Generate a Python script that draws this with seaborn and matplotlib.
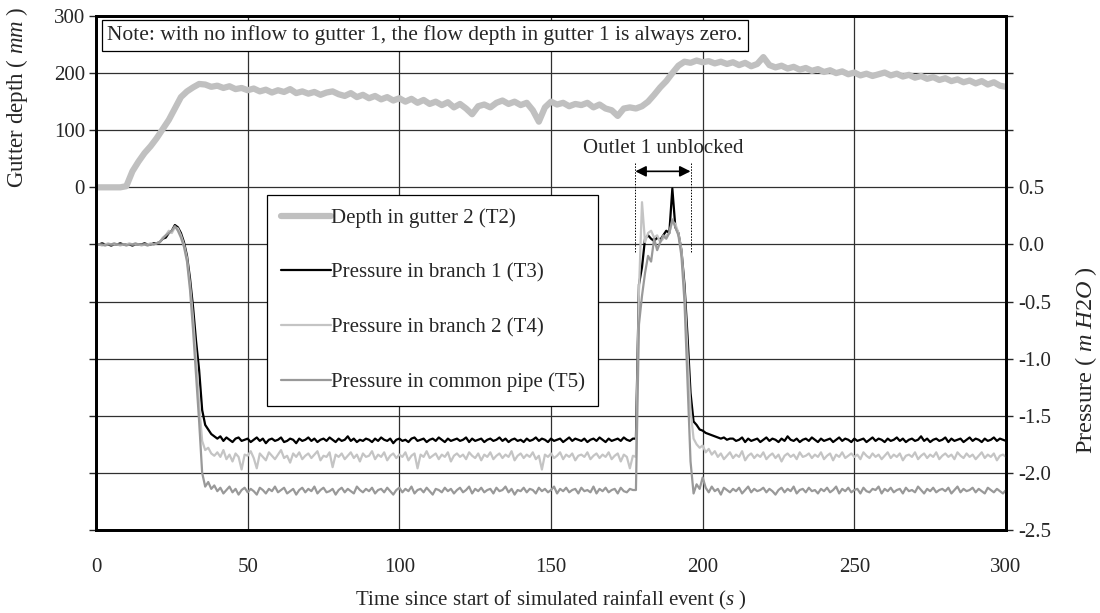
import numpy as np
import matplotlib
matplotlib.use("Agg")
import matplotlib.pyplot as plt
import seaborn as sns

# gutter 2 depth (mm), sampled every 2 s from 0 to 300 s
depth_t2 = [
    0, 0, 0, 0, 0, 2, 28, 45, 60, 72,
    86, 102, 118, 138, 158, 168, 175, 181, 180, 176,
    178, 174, 177, 172, 174, 170, 173, 168, 171, 166,
    170, 167, 172, 165, 168, 164, 167, 162, 166, 168,
    163, 160, 165, 158, 162, 156, 160, 154, 158, 152,
    156, 150, 155, 148, 153, 146, 150, 144, 149, 140,
    146, 138, 128, 142, 145, 140, 148, 152, 146, 150,
    144, 148, 135, 115, 140, 150, 145, 148, 142, 146,
    144, 148, 140, 145, 138, 135, 125, 138, 140, 138,
    142, 150, 162, 175, 186, 200, 213, 220, 218, 222,
    219, 221, 217, 220, 216, 219, 214, 218, 212, 216,
    228, 214, 210, 213, 208, 211, 206, 209, 204, 207,
    202, 205, 200, 203, 198, 201, 196, 199, 195, 198,
    201, 196, 199, 194, 197, 192, 195, 190, 193, 188,
    191, 186, 189, 184, 187, 182, 186, 180, 184, 178,
    176,
]

# pressures (m H2O), sampled every 1 s from 0 to 300 s
pressure_t3 = [
    0.00, 0.00, 0.01, 0.00, 0.00, -0.01, 0.00, 0.00, 0.01, 0.00,
    0.00, 0.00, -0.01, 0.00, 0.00, 0.00, 0.01, 0.00, 0.00, 0.01,
    0.01, 0.02, 0.05, 0.06, 0.10, 0.12, 0.17, 0.15, 0.10, 0.02,
    -0.10, -0.30, -0.55, -0.85, -1.10, -1.45, -1.58, -1.62, -1.66, -1.68,
    -1.70, -1.68, -1.72, -1.69, -1.71, -1.73, -1.70, -1.69, -1.72, -1.71,
    -1.70, -1.73, -1.71, -1.69, -1.72, -1.70, -1.74, -1.71, -1.70, -1.72,
    -1.71, -1.69, -1.73, -1.72, -1.70, -1.71, -1.74, -1.70, -1.72, -1.71,
    -1.69, -1.72, -1.70, -1.73, -1.71, -1.70, -1.72, -1.69, -1.71, -1.73,
    -1.70, -1.72, -1.71, -1.68, -1.72, -1.70, -1.73, -1.71, -1.72, -1.70,
    -1.71, -1.73, -1.70, -1.72, -1.69, -1.71, -1.72, -1.70, -1.74, -1.71,
    -1.70, -1.72, -1.71, -1.73, -1.70, -1.69, -1.72, -1.71, -1.70, -1.73,
    -1.71, -1.70, -1.72, -1.69, -1.71, -1.73, -1.70, -1.72, -1.71, -1.70,
    -1.72, -1.71, -1.69, -1.73, -1.70, -1.72, -1.71, -1.70, -1.73, -1.71,
    -1.70, -1.72, -1.71, -1.69, -1.72, -1.70, -1.73, -1.71, -1.70, -1.72,
    -1.71, -1.73, -1.70, -1.72, -1.71, -1.69, -1.72, -1.70, -1.71, -1.73,
    -1.70, -1.72, -1.71, -1.70, -1.73, -1.71, -1.69, -1.72, -1.70, -1.71,
    -1.72, -1.70, -1.73, -1.71, -1.70, -1.72, -1.69, -1.71, -1.73, -1.70,
    -1.72, -1.71, -1.70, -1.72, -1.69, -1.71, -1.72, -1.70, -1.70, -0.35,
    -0.20, 0.05, 0.08, 0.05, 0.03, 0.06, 0.04, 0.08, 0.12, 0.10,
    0.49, 0.15, 0.10, -0.05, -0.35, -0.80, -1.30, -1.55, -1.58, -1.62,
    -1.63, -1.65, -1.66, -1.67, -1.68, -1.69, -1.70, -1.69, -1.71, -1.70,
    -1.70, -1.72, -1.71, -1.69, -1.73, -1.70, -1.72, -1.71, -1.70, -1.73,
    -1.71, -1.69, -1.72, -1.70, -1.71, -1.73, -1.70, -1.72, -1.68, -1.71,
    -1.72, -1.70, -1.73, -1.71, -1.70, -1.72, -1.69, -1.71, -1.73, -1.70,
    -1.72, -1.71, -1.70, -1.73, -1.71, -1.69, -1.72, -1.70, -1.71, -1.73,
    -1.70, -1.72, -1.71, -1.70, -1.73, -1.71, -1.69, -1.72, -1.70, -1.71,
    -1.73, -1.70, -1.72, -1.71, -1.69, -1.72, -1.70, -1.73, -1.71, -1.70,
    -1.72, -1.71, -1.68, -1.72, -1.70, -1.73, -1.71, -1.70, -1.72, -1.71,
    -1.69, -1.73, -1.70, -1.72, -1.71, -1.70, -1.73, -1.71, -1.69, -1.72,
    -1.70, -1.71, -1.73, -1.70, -1.72, -1.71, -1.69, -1.72, -1.70, -1.71,
    -1.72,
]

pressure_t4 = [
    0.00, 0.00, -0.01, 0.00, 0.01, 0.00, 0.00, 0.00, -0.01, 0.00,
    0.00, 0.01, 0.00, 0.00, 0.00, -0.01, 0.00, 0.00, 0.01, 0.00,
    0.01, 0.02, 0.06, 0.08, 0.12, 0.10, 0.15, 0.14, 0.08, 0.00,
    -0.12, -0.35, -0.65, -1.00, -1.40, -1.72, -1.80, -1.78, -1.83, -1.85,
    -1.82, -1.86, -1.80, -1.88, -1.84, -1.90, -1.83, -1.86, -1.97, -1.84,
    -1.85, -1.81, -1.87, -1.96, -1.83, -1.86, -1.89, -1.82, -1.85, -1.88,
    -1.84, -1.80, -1.87, -1.85, -1.91, -1.83, -1.86, -1.82, -1.88, -1.85,
    -1.83, -1.87, -1.84, -1.81, -1.89, -1.85, -1.86, -1.82, -1.95, -1.84,
    -1.86, -1.83, -1.88, -1.85, -1.82, -1.87, -1.84, -1.90, -1.83, -1.86,
    -1.85, -1.81, -1.88, -1.84, -1.86, -1.82, -1.89, -1.85, -1.83, -1.87,
    -1.84, -1.86, -1.82, -1.89, -1.85, -1.83, -1.96, -1.84, -1.86, -1.81,
    -1.87, -1.85, -1.83, -1.88, -1.84, -1.86, -1.82, -1.90, -1.85, -1.83,
    -1.86, -1.84, -1.88, -1.82, -1.85, -1.87, -1.83, -1.89, -1.84, -1.86,
    -1.82, -1.88, -1.85, -1.83, -1.87, -1.84, -1.86, -1.81, -1.89, -1.85,
    -1.83, -1.87, -1.84, -1.86, -1.82, -1.88, -1.85, -1.97, -1.84, -1.86,
    -1.83, -1.87, -1.85, -1.82, -1.88, -1.84, -1.86, -1.83, -1.89, -1.85,
    -1.84, -1.86, -1.82, -1.88, -1.85, -1.83, -1.87, -1.84, -1.86, -1.82,
    -1.88, -1.85, -1.83, -1.90, -1.84, -1.86, -1.96, -1.85, -1.86, -0.40,
    0.37, 0.02, 0.10, 0.12, 0.06, 0.08, 0.02, 0.05, 0.08, 0.10,
    0.20, 0.18, 0.10, -0.05, -0.40, -0.95, -1.45, -1.70, -1.75, -1.78,
    -1.76, -1.82, -1.79, -1.84, -1.81, -1.86, -1.83, -1.88, -1.85, -1.82,
    -1.87, -1.84, -1.86, -1.81, -1.89, -1.85, -1.83, -1.87, -1.84, -1.86,
    -1.82, -1.88, -1.85, -1.83, -1.87, -1.84, -1.90, -1.85, -1.83, -1.86,
    -1.84, -1.88, -1.82, -1.86, -1.85, -1.83, -1.87, -1.84, -1.86, -1.82,
    -1.88, -1.85, -1.83, -1.89, -1.84, -1.86, -1.82, -1.87, -1.85, -1.83,
    -1.86, -1.84, -1.88, -1.82, -1.85, -1.87, -1.83, -1.86, -1.84, -1.88,
    -1.85, -1.82, -1.87, -1.84, -1.86, -1.83, -1.89, -1.85, -1.84, -1.86,
    -1.82, -1.88, -1.85, -1.83, -1.87, -1.84, -1.86, -1.82, -1.88, -1.85,
    -1.83, -1.86, -1.84, -1.88, -1.82, -1.85, -1.87, -1.83, -1.86, -1.84,
    -1.88, -1.85, -1.82, -1.87, -1.84, -1.86, -1.83, -1.89, -1.85, -1.84,
    -1.86,
]

pressure_t5 = [
    0.00, 0.00, 0.00, -0.01, 0.00, 0.00, 0.01, 0.00, 0.00, 0.00,
    -0.01, 0.00, 0.00, 0.01, 0.00, 0.00, 0.00, -0.01, 0.00, 0.00,
    0.01, 0.02, 0.05, 0.08, 0.10, 0.12, 0.16, 0.12, 0.06, -0.02,
    -0.15, -0.40, -0.75, -1.15, -1.55, -2.00, -2.12, -2.08, -2.14, -2.11,
    -2.16, -2.13, -2.18, -2.15, -2.12, -2.17, -2.14, -2.19, -2.15, -2.13,
    -2.17, -2.14, -2.16, -2.19, -2.13, -2.15, -2.18, -2.14, -2.16, -2.12,
    -2.17, -2.15, -2.13, -2.18, -2.16, -2.14, -2.19, -2.15, -2.13, -2.17,
    -2.14, -2.16, -2.12, -2.18, -2.15, -2.13, -2.17, -2.16, -2.14, -2.19,
    -2.15, -2.13, -2.17, -2.14, -2.16, -2.18, -2.12, -2.15, -2.17, -2.14,
    -2.16, -2.13, -2.18, -2.15, -2.14, -2.17, -2.13, -2.16, -2.19, -2.15,
    -2.13, -2.17, -2.14, -2.16, -2.12, -2.18, -2.15, -2.14, -2.17, -2.13,
    -2.16, -2.19, -2.14, -2.15, -2.17, -2.13, -2.16, -2.14, -2.18, -2.15,
    -2.13, -2.17, -2.15, -2.12, -2.18, -2.14, -2.16, -2.13, -2.17, -2.15,
    -2.14, -2.18, -2.13, -2.16, -2.15, -2.12, -2.17, -2.14, -2.19, -2.15,
    -2.16, -2.13, -2.17, -2.14, -2.15, -2.18, -2.13, -2.16, -2.14, -2.17,
    -2.15, -2.12, -2.18, -2.14, -2.16, -2.13, -2.17, -2.15, -2.14, -2.18,
    -2.13, -2.16, -2.15, -2.17, -2.12, -2.18, -2.14, -2.16, -2.13, -2.17,
    -2.15, -2.14, -2.18, -2.13, -2.16, -2.17, -2.14, -2.15, -2.15, -0.70,
    -0.45, -0.25, -0.10, -0.15, 0.05, -0.05, 0.02, 0.08, 0.05, 0.10,
    0.22, 0.15, 0.08, -0.10, -0.50, -1.20, -1.90, -2.18, -2.10, -2.14,
    -2.04, -2.13, -2.17, -2.12, -2.16, -2.14, -2.19, -2.13, -2.15, -2.17,
    -2.14, -2.16, -2.13, -2.18, -2.15, -2.12, -2.17, -2.14, -2.16, -2.15,
    -2.13, -2.17, -2.14, -2.16, -2.19, -2.15, -2.13, -2.17, -2.14, -2.16,
    -2.12, -2.18, -2.15, -2.14, -2.17, -2.13, -2.16, -2.15, -2.18, -2.14,
    -2.16, -2.13, -2.17, -2.15, -2.12, -2.18, -2.14, -2.16, -2.13, -2.17,
    -2.15, -2.14, -2.18, -2.13, -2.16, -2.17, -2.14, -2.15, -2.12, -2.18,
    -2.14, -2.16, -2.13, -2.17, -2.15, -2.14, -2.18, -2.13, -2.16, -2.15,
    -2.17, -2.12, -2.15, -2.18, -2.14, -2.16, -2.13, -2.17, -2.15, -2.14,
    -2.16, -2.13, -2.18, -2.15, -2.12, -2.17, -2.14, -2.16, -2.15, -2.13,
    -2.17, -2.14, -2.16, -2.18, -2.13, -2.15, -2.17, -2.14, -2.16, -2.18,
    -2.15,
]

t_depth = np.arange(len(depth_t2)) * 2
t_press = np.arange(len(pressure_t3))

labels = ["Depth in gutter 2 (T2)", "Pressure in branch 1 (T3)",
          "Pressure in branch 2 (T4)", "Pressure in common pipe (T5)"]
note = "Note: with no inflow to gutter 1, the flow depth in gutter 1 is always zero."

sns.set_theme(style="white")
plt.rcParams['font.family'] = ['Liberation Serif', 'DejaVu Serif']
plt.rcParams['mathtext.fontset'] = 'custom'
plt.rcParams['mathtext.rm'] = 'Liberation Serif'
plt.rcParams['mathtext.it'] = 'Liberation Serif:italic'
fs = 15

fig = plt.figure(figsize=(11, 6.13), dpi=100)
ax = fig.add_axes([96 / 1100, 1 - 530 / 613, 910 / 1100, 514 / 613])
ax2 = ax.twinx()

sns.lineplot(x=t_depth, y=depth_t2, ax=ax, color="#c0c0c0", lw=4.5, label=labels[0], legend=False)
sns.lineplot(x=t_press, y=pressure_t3, ax=ax2, color="black", lw=1.6, label=labels[1], legend=False)
sns.lineplot(x=t_press, y=pressure_t4, ax=ax2, color="#c4c4c4", lw=1.6, label=labels[2], legend=False)
sns.lineplot(x=t_press, y=pressure_t5, ax=ax2, color="#999999", lw=1.6, label=labels[3], legend=False)

ax.set_xlim(0, 300)
ax.set_ylim(-600, 300)
ax2.set_ylim(-2.5, 2.0)
ax.set_xticks(range(0, 301, 50))
ax.set_yticks(range(-600, 301, 100))
ax.set_yticklabels([str(v) if v >= 0 else "" for v in range(-600, 301, 100)])
p_ticks = np.arange(-2.5, 2.01, 0.5)
ax2.set_yticks(p_ticks)
ax2.set_yticklabels([f"{v:.1f}" if v <= 0.51 else "" for v in p_ticks])

ax.grid(True, color="#303030", lw=0.9)
ax2.grid(False)
ax.tick_params(axis="x", length=0, pad=20, labelsize=fs)
ax.tick_params(axis="y", length=5, width=1, direction="out", labelsize=fs, pad=3, left=True)
ax2.tick_params(axis="y", length=5, width=1, direction="out", labelsize=fs, pad=4, right=True)
for a in (ax, ax2):
    for s in a.spines.values():
        s.set_color("black")
        s.set_linewidth(2)

ax.set_xlabel(r"Time since start of simulated rainfall event ($s$ )", fontsize=fs, labelpad=9)
ax.set_ylabel(r"Gutter depth ( $\mathit{mm}$ )", fontsize=16.5)
ax.yaxis.set_label_coords(-0.072, 0.842)
ax2.set_ylabel(r"Pressure ( $\mathit{m\ H2O}$ )", fontsize=17.5, rotation=90)
ax2.yaxis.set_label_coords(1.074, 0.331)

# note box
ax.text(0.0125, 0.962, note, transform=ax.transAxes, fontsize=15.5, va="center", ha="left",
        bbox=dict(boxstyle="square,pad=0.25", fc="white", ec="black", lw=0.9), zorder=5)

# outlet unblocked annotation (depth-axis coordinates)
x_open, x_close = 177.8, 196.0
ax.annotate("", xy=(x_open, 28), xytext=(x_close, 28),
            arrowprops=dict(arrowstyle="<|-|>", color="black", lw=1.2, mutation_scale=16,
                            shrinkA=0, shrinkB=0))
for xv in (x_open, x_close):
    ax.plot([xv, xv], [42, -114], ls=(0, (1.5, 1.5)), lw=0.7, color="black")
ax.text((x_open + x_close) / 2, 68, "Outlet 1 unblocked", fontsize=fs, ha="center", va="center")

h1, l1 = ax.get_legend_handles_labels()
h2, l2 = ax2.get_legend_handles_labels()
leg = ax2.legend(h1 + h2, l1 + l2, loc="upper left", bbox_to_anchor=(0.188, 0.652),
                 borderaxespad=0, fontsize=fs, frameon=True, fancybox=False,
                 edgecolor="black", framealpha=1, handlelength=2.4, handletextpad=0.0,
                 labelspacing=1.68, borderpad=0.65)
leg.get_frame().set_linewidth(0.9)

fig.savefig("out.png", dpi=100)
